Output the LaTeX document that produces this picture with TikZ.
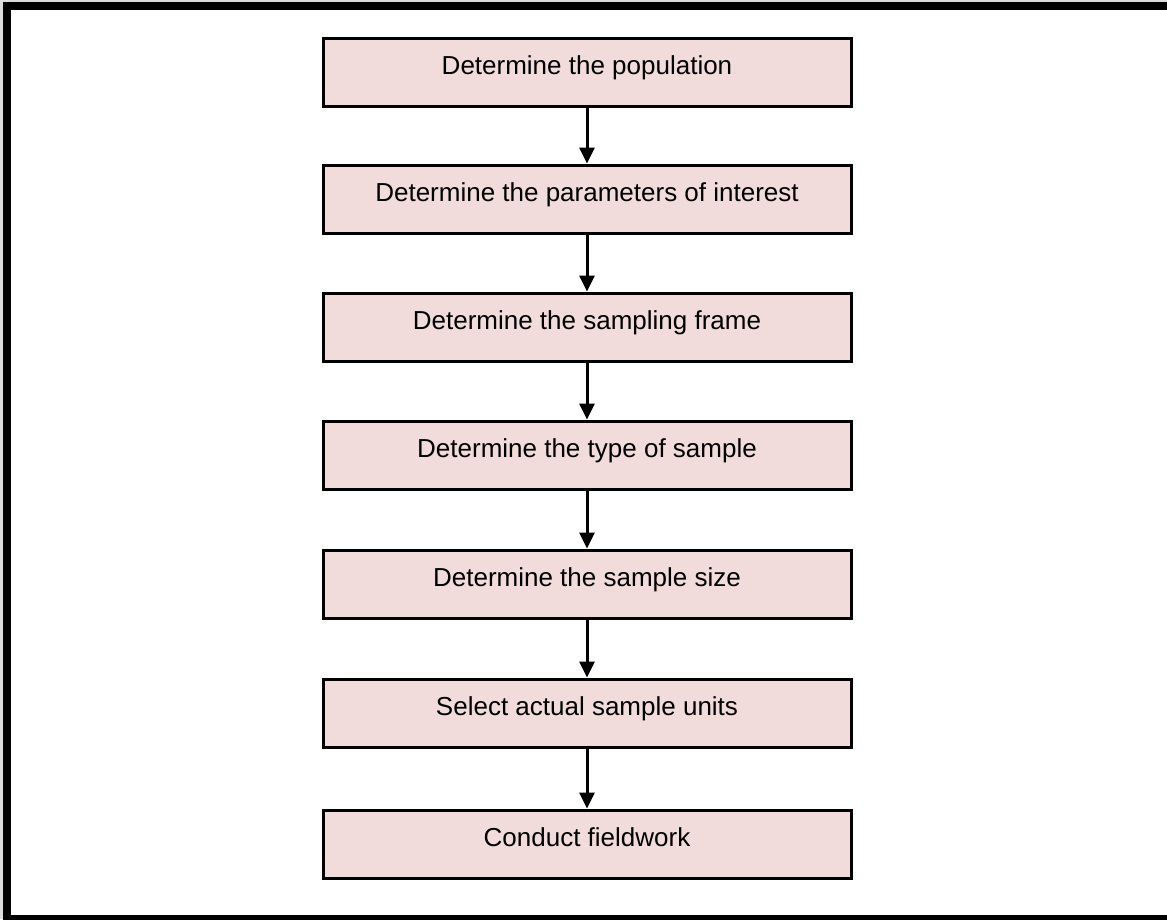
\documentclass[tikz,border=0pt]{standalone}
\usepackage{fontspec}
\setmainfont{Liberation Sans}
\usetikzlibrary{arrows.meta}
\definecolor{boxpink}{HTML}{F2DCDB}
\definecolor{edgegray}{HTML}{DDDDDD}
\tikzset{
  stepbox/.style={draw=black, line width=3pt, fill=boxpink, inner sep=0pt,
    minimum width=528pt, text height=36pt, text depth=32pt,
    font=\fontsize{26}{30}\selectfont},
  flowarrow/.style={draw=black, line width=3pt, -{Triangle[width=15pt,length=16pt]}},
  framebox/.style={draw=black, line width=8pt}
}
\begin{document}
\begin{tikzpicture}[x=1pt,y=-1pt]
\useasboundingbox (0,0) rectangle (1167,919);
\clip (0,0) rectangle (1167,919);
\fill[white] (0,0) rectangle (1167,919);
\fill[edgegray] (0,0) rectangle (1167,2);
\fill[edgegray] (0,0) rectangle (3,919);
\draw[framebox] (7,6) rectangle (1185,919);
\node[stepbox] (b1) at (587, 72) {Determine the population};
\node[stepbox] (b2) at (587, 199) {Determine the parameters of interest};
\node[stepbox] (b3) at (587, 327) {Determine the sampling frame};
\node[stepbox] (b4) at (587, 455) {Determine the type of sample};
\node[stepbox] (b5) at (587, 584) {Determine the sample size};
\node[stepbox] (b6) at (587, 713) {Select actual sample units};
\node[stepbox] (b7) at (587, 844) {Conduct fieldwork};
\draw[flowarrow] (b1.south) -- (b2.north);
\draw[flowarrow] (b2.south) -- (b3.north);
\draw[flowarrow] (b3.south) -- (b4.north);
\draw[flowarrow] (b4.south) -- (b5.north);
\draw[flowarrow] (b5.south) -- (b6.north);
\draw[flowarrow] (b6.south) -- (b7.north);
\end{tikzpicture}
\end{document}
